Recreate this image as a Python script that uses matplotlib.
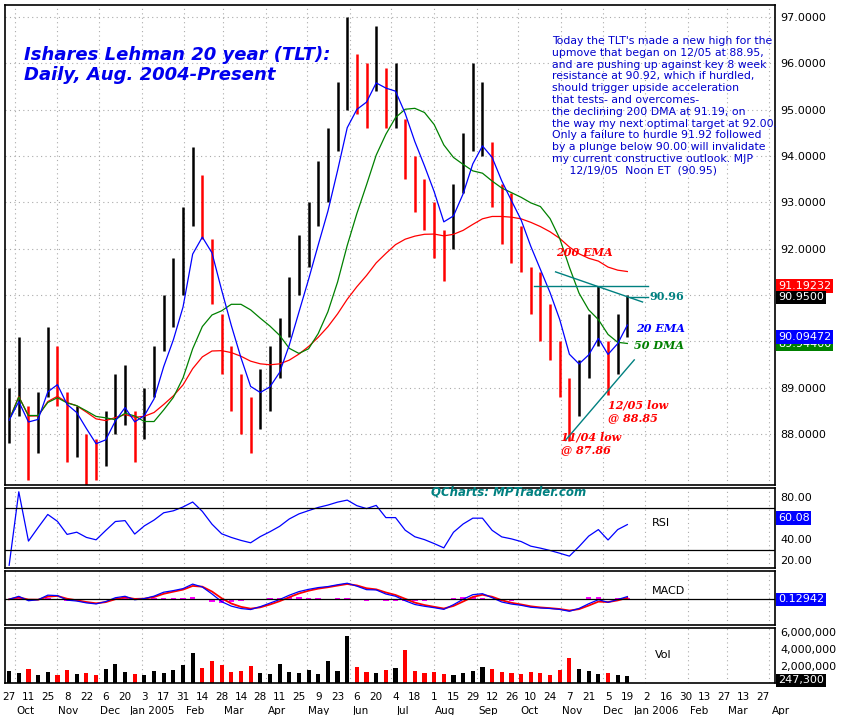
import matplotlib
matplotlib.use("Agg")
import matplotlib.pyplot as plt
import numpy as np
import pandas as pd

# weekly bars (Mondays from 2004-09-27 to 2005-12-19)
weeks = pd.date_range("2004-09-27", "2005-12-19", freq="W-MON")
close = [88.3, 89.3, 87.6, 88.4, 89.8, 89.3, 88.0, 88.2, 87.6, 87.3,
         88.0, 88.9, 89.0, 87.8, 88.6, 89.3, 90.5, 90.9, 91.8, 93.6,
         92.8, 91.4, 89.9, 89.2, 88.6, 88.1, 88.7, 89.2, 89.8, 90.8,
         91.7, 92.4, 93.2, 93.9, 95.0, 96.0, 95.6, 95.4, 96.2, 95.3,
         95.3, 94.2, 93.4, 93.0, 92.4, 91.6, 92.9, 93.9, 94.8, 94.8,
         93.6, 92.7, 92.4, 92.0, 91.2, 90.8, 90.3, 89.6, 88.6, 89.2,
         90.0, 90.6, 89.2, 90.3, 90.95]
low = [87.8, 88.4, 87.0, 87.6, 88.8, 88.6, 87.4, 87.5, 86.9, 87.0,
       87.3, 88.0, 88.2, 87.4, 87.9, 88.8, 89.8, 90.3, 91.0, 92.5,
       92.2, 90.8, 89.3, 88.5, 88.0, 87.6, 88.1, 88.5, 89.2, 90.1,
       91.0, 91.6, 92.5, 93.0, 94.1, 95.0, 94.9, 94.6, 95.4, 94.6,
       94.6, 93.5, 92.8, 92.4, 91.8, 91.3, 92.0, 93.2, 94.1, 94.0,
       92.9, 92.1, 91.7, 91.5, 90.6, 90.0, 89.6, 88.8, 87.86, 88.4,
       89.2, 89.9, 88.85, 89.3, 90.1]
high = [89.0, 90.1, 88.6, 88.9, 90.3, 89.9, 88.9, 88.6, 88.0, 87.9,
        88.5, 89.3, 89.5, 88.5, 89.0, 89.9, 91.0, 91.8, 92.9, 94.2,
        93.6, 92.2, 90.6, 89.9, 89.3, 88.8, 89.4, 89.9, 90.5, 91.4,
        92.3, 93.0, 93.9, 94.6, 95.6, 97.0, 96.2, 96.0, 96.8, 95.9,
        96.0, 94.8, 94.0, 93.5, 93.0, 92.4, 93.4, 94.5, 96.0, 95.6,
        94.3, 93.4, 93.2, 92.5, 91.6, 91.5, 90.8, 90.0, 89.2, 89.6,
        90.6, 91.2, 90.0, 90.6, 91.0]
volume = [1.4, 1.2, 1.6, 1.0, 1.3, 0.9, 1.5, 1.1, 1.2, 1.0,
          1.6, 2.2, 1.3, 1.1, 1.0, 1.4, 1.2, 1.5, 2.1, 3.5,
          1.8, 2.6, 2.1, 1.3, 1.4, 2.0, 1.2, 1.1, 2.3, 1.3,
          1.2, 1.5, 1.1, 2.6, 1.4, 5.5, 1.9, 1.3, 1.2, 1.5,
          1.8, 3.9, 1.4, 1.2, 1.3, 1.1, 1.0, 1.2, 1.4, 1.9,
          1.6, 1.3, 1.2, 1.1, 1.3, 1.2, 1.0, 1.5, 2.9, 1.6,
          1.4, 1.1, 1.2, 1.0, 0.8]

comment = ("Today the TLT's made a new high for the\n"
           "upmove that began on 12/05 at 88.95,\n"
           "and are pushing up against key 8 week\n"
           "resistance at 90.92, which if hurdled,\n"
           "should trigger upside acceleration\n"
           "that tests- and overcomes-\n"
           "the declining 200 DMA at 91.19, on\n"
           "the way my next optimal target at 92.00.\n"
           "Only a failure to hurdle 91.92 followed\n"
           "by a plunge below 90.00 will invalidate\n"
           "my current constructive outlook. MJP\n"
           "     12/19/05  Noon ET  (90.95)")

s = pd.Series(close, index=weeks)
ema20 = s.ewm(span=4, adjust=False).mean()
dma50 = s.rolling(10, min_periods=1).mean()
ema200 = s.ewm(span=40, adjust=True).mean()
delta = s.diff().fillna(0)
up = delta.clip(lower=0).ewm(alpha=1 / 6, adjust=False).mean()
dn = (-delta.clip(upper=0)).ewm(alpha=1 / 6, adjust=False).mean()
rsi = (100 - 100 / (1 + up / dn.replace(0, 1e-9))) * 0.7 + 15
macd = s.ewm(span=3, adjust=False).mean() - s.ewm(span=6, adjust=False).mean()
signal = macd.ewm(span=2, adjust=False).mean()
hist = macd - signal

W, H = 844, 715
fig = plt.figure(figsize=(W / 100, H / 100), dpi=100)
fig.patch.set_facecolor("white")


def panel(top, bottom):
    return fig.add_axes([5 / W, 1 - bottom / H, 770 / W, (bottom - top) / H])


ax = panel(5, 485)
ax_rsi = panel(488, 568)
ax_macd = panel(571, 625)
ax_vol = panel(628, 683)

xmin = pd.Timestamp("2004-09-24")
xmax = pd.Timestamp("2006-04-05")
month_starts = pd.date_range("2004-10-01", "2006-04-01", freq="MS")

for a in (ax, ax_rsi, ax_macd, ax_vol):
    a.set_xlim(xmin, xmax)
    a.yaxis.tick_right()
    a.tick_params(axis="y", labelsize=8, length=0, pad=4)
    a.tick_params(axis="x", bottom=False, labelbottom=False)
    for m in month_starts:
        a.axvline(m, color="#aaaaaa", ls=(0, (1, 3)), lw=0.8, zorder=0)
    for sp in a.spines.values():
        sp.set_linewidth(1.2)

# price bars
colors = ["black" if i == 0 or close[i] >= close[i - 1] else "red" for i in range(len(close))]
ax.vlines(weeks, low, high, colors=colors, lw=1.8)
ax.plot(weeks, ema200, color="red", lw=0.9)
ax.plot(weeks, dma50, color="green", lw=0.9)
ax.plot(weeks, ema20, color="blue", lw=0.9)
ax.set_ylim(86.9, 97.26)
ax.set_yticks(range(88, 98))
ax.set_yticklabels([f"{v:.4f}" for v in range(88, 98)])
for v in range(88, 98):
    ax.axhline(v, color="#aaaaaa", ls=(0, (1, 3)), lw=0.8, zorder=0)

# trend lines
teal = "#008080"
ax.plot([pd.Timestamp("2005-10-12"), pd.Timestamp("2006-01-03")], [91.2, 91.2], color=teal, lw=1)
ax.plot([pd.Timestamp("2005-10-28"), pd.Timestamp("2005-12-30")], [91.5, 90.85], color=teal, lw=1)
ax.plot([pd.Timestamp("2005-12-21"), pd.Timestamp("2006-01-03")], [90.96, 90.96], color=teal, lw=1)
ax.plot([pd.Timestamp("2005-11-04"), pd.Timestamp("2005-12-24")], [87.86, 89.6], color=teal, lw=1)

ax.text(0.025, 0.915, "Ishares Lehman 20 year (TLT):\nDaily, Aug. 2004-Present",
        transform=ax.transAxes, color="#0000ee", fontsize=13, fontweight="bold",
        style="italic", va="top", linespacing=1.15)
ax.text(0.711, 0.935, comment, transform=ax.transAxes, color="#0000cc",
        fontsize=7.8, va="top", linespacing=1.22)
lab = dict(fontsize=8, fontweight="bold", style="italic", family="DejaVu Serif")
ax.text(pd.Timestamp("2005-10-28"), 91.85, "200 EMA", color="red", **lab)
ax.text(pd.Timestamp("2006-01-04"), 90.9, "90.96", color=teal, fontsize=8,
        fontweight="bold", family="DejaVu Serif")
ax.text(pd.Timestamp("2005-12-25"), 90.2, "20 EMA", color="blue", **lab)
ax.text(pd.Timestamp("2005-12-24"), 89.83, "50 DMA", color="green", **lab)
ax.text(pd.Timestamp("2005-12-05"), 88.75, "12/05 low\n@ 88.85", color="red", va="top", **lab)
ax.text(pd.Timestamp("2005-11-01"), 88.05, "11/04 low\n@ 87.86", color="red", va="top", **lab)


def tag(a, y, text, bg, fg="white"):
    a.text(1.004, y, text, transform=a.get_yaxis_transform(), fontsize=8, color=fg,
           va="center", ha="left",
           bbox=dict(boxstyle="square,pad=0.15", fc=bg, ec="none"))


tag(ax, 89.944, "89.94400", "green")
tag(ax, 90.09472, "90.09472", "blue")
tag(ax, 91.19232, "91.19232", "red")
tag(ax, 90.95, "90.9500", "black")

# RSI
ax_rsi.plot(weeks, rsi, color="blue", lw=0.9)
ax_rsi.axhline(70, color="black", lw=0.9)
ax_rsi.axhline(30, color="black", lw=0.9)
ax_rsi.set_ylim(12.4, 88.6)
ax_rsi.set_yticks([20, 40, 60, 80])
ax_rsi.set_yticklabels(["20.00", "40.00", "", "80.00"])
ax_rsi.text(pd.Timestamp("2006-01-06"), 52, "RSI", fontsize=8)
ax_rsi.text(pd.Timestamp("2005-07-30"), 81, "QCharts: MPTrader.com", color=teal,
            fontsize=8.5, fontweight="bold", style="italic")
tag(ax_rsi, 60.08, "60.08", "blue")

# MACD
ax_macd.bar(weeks, hist, width=4, color="magenta")
ax_macd.plot(weeks, signal, color="red", lw=1.3)
ax_macd.plot(weeks, macd, color="blue", lw=0.9)
ax_macd.axhline(0, color="black", lw=0.9)
lim = max(abs(macd).max(), abs(signal).max()) * 1.6
ax_macd.set_ylim(-lim, lim * 1.1)
ax_macd.set_yticks([])
ax_macd.text(pd.Timestamp("2006-01-06"), lim * 0.2, "MACD", fontsize=8)
tag(ax_macd, 0.0, "0.12942", "blue")

# volume
ax_vol.bar(weeks, np.array(volume) * 1e6, width=3, color=colors)
ax_vol.set_ylim(0, 6.5e6)
ax_vol.set_yticks([2e6, 4e6, 6e6])
ax_vol.set_yticklabels(["2,000,000", "4,000,000", "6,000,000"])
ax_vol.text(pd.Timestamp("2006-01-08"), 3.0e6, "Vol", fontsize=8)
tag(ax_vol, 0.3e6, "247,300", "black")

# date axis: week day numbers and month names
mondays = pd.date_range("2004-09-27", "2006-04-03", freq="W-MON")
for d in mondays[::2]:
    ax_vol.text(d, -0.25, str(d.day), transform=ax_vol.get_xaxis_transform(),
                fontsize=7.5, ha="center", va="center")
for m in month_starts:
    name = m.strftime("%b")
    if m.month == 1:
        name += f" {m.year}"
    ax_vol.text(m + pd.Timedelta(days=8), -0.5, name,
                transform=ax_vol.get_xaxis_transform(), fontsize=7.5,
                ha="center", va="center")

fig.savefig("out.png", dpi=100)
